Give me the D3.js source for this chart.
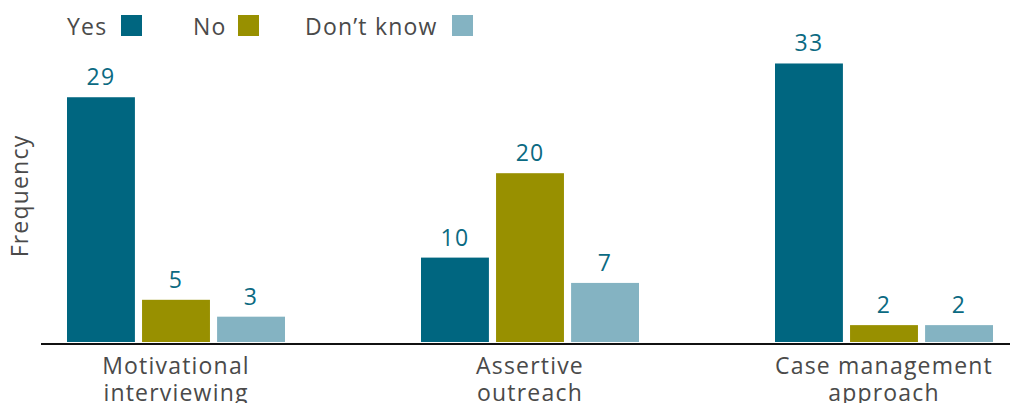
<!DOCTYPE html>
<html>
<head>
<meta charset="utf-8">
<script src="https://cdn.jsdelivr.net/npm/d3@7"></script>
<style>
  html, body { margin: 0; padding: 0; background: #fff; }
  svg { display: block; }
  text { font-family: "Open Sans", "Noto Sans", sans-serif; letter-spacing: 1.2px; }
</style>
</head>
<body>
<svg id="chart" width="1010" height="403"></svg>
<script>
// Responses per approach
const categories = [["Motivational", "interviewing"], ["Assertive", "outreach"], ["Case management", "approach"]];
const seriesNames = ["Yes", "No", "Don\u2019t know"];
const yesValues = [29, 10, 33];
const noValues = [5, 20, 2];
const dontKnowValues = [3, 7, 2];
const colors = ["#006680", "#989000", "#84B3C2"];

const seriesValues = [yesValues, noValues, dontKnowValues];

const svg = d3.select("#chart");
const baseY = 342;
const fontSize = 23;

// group centers
const x0 = d3.scalePoint()
  .domain(d3.range(categories.length))
  .range([176, 884]);

const x1 = d3.scaleBand()
  .domain(d3.range(seriesNames.length))
  .range([-109, 109])
  .paddingInner(0.095)
  .paddingOuter(0);

const y = d3.scaleLinear().domain([0, 35]).range([baseY, baseY - 35 * 8.44]);

const textColor = "#4a4a4a";
const valueColor = "#0b6a82";

// bars and value labels
categories.forEach((cat, i) => {
  const g = svg.append("g").attr("transform", `translate(${x0(i)},0)`);
  seriesValues.forEach((vals, s) => {
    const v = vals[i];
    g.append("rect")
      .attr("x", x1(s))
      .attr("y", y(v))
      .attr("width", x1.bandwidth())
      .attr("height", y(0) - y(v))
      .attr("fill", colors[s]);
    g.append("text")
      .attr("x", x1(s) + x1.bandwidth() / 2)
      .attr("y", y(v) - 12)
      .attr("text-anchor", "middle")
      .attr("font-size", fontSize)
      .attr("fill", valueColor)
      .text(v);
  });
  const lbl = g.append("text")
    .attr("text-anchor", "middle")
    .attr("font-size", fontSize)
    .attr("fill", textColor);
  cat.forEach((line, k) => {
    lbl.append("tspan").attr("x", 0).attr("y", 374 + k * 27).text(line);
  });
});

// baseline
svg.append("line")
  .attr("x1", 41).attr("x2", 1010)
  .attr("y1", 344).attr("y2", 344)
  .attr("stroke", "#111").attr("stroke-width", 2.2);

// y-axis title
svg.append("text")
  .attr("transform", "translate(28,196) rotate(-90)")
  .attr("text-anchor", "middle")
  .attr("font-size", fontSize)
  .attr("fill", textColor)
  .text("Frequency");

// legend
const legendItems = [
  { textX: 67, boxX: 121 },
  { textX: 193, boxX: 238 },
  { textX: 305, boxX: 452 }
];
seriesNames.forEach((name, s) => {
  svg.append("text")
    .attr("x", legendItems[s].textX)
    .attr("y", 35)
    .attr("font-size", fontSize)
    .attr("fill", textColor)
    .text(name);
  svg.append("rect")
    .attr("x", legendItems[s].boxX)
    .attr("y", 15)
    .attr("width", 21)
    .attr("height", 21)
    .attr("fill", colors[s]);
});
</script>
</body>
</html>
